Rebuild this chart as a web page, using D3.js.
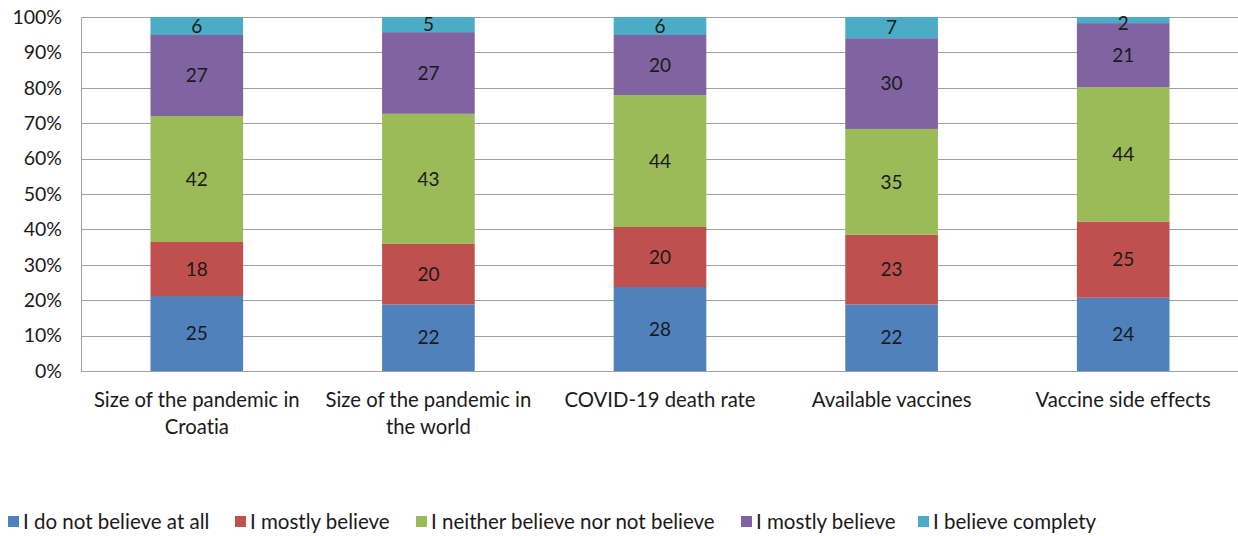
<!DOCTYPE html>
<html><head><meta charset="utf-8">
<script src="https://cdn.jsdelivr.net/npm/d3@7"></script>
<style>body{margin:0;background:#fff}svg{display:block}text{font-family:Lato,"Open Sans",sans-serif;fill:#1a1a1a;font-variant-ligatures:none;font-feature-settings:"liga" 0,"clig" 0}</style>
</head><body>
<svg id="c" width="1238" height="536"></svg>
<script>
const categories = ["Size of the pandemic in Croatia","Size of the pandemic in the world","COVID-19 death rate","Available vaccines","Vaccine side effects"];
const seriesNames = ["I do not believe at all","I mostly believe","I neither believe nor not believe","I mostly believe","I believe complety"];
const notAtAll = [25,22,28,22,24];
const mostly1 = [18,20,20,23,25];
const neither = [42,43,44,35,44];
const mostly2 = [27,27,20,30,21];
const completely = [6,5,6,7,2];
const colors = ["#4F81BD","#C0504D","#9BBB59","#8064A2","#4BACC6"];
const yTicks = [0,0.1,0.2,0.3,0.4,0.5,0.6,0.7,0.8,0.9,1];

const series = [notAtAll,mostly1,neither,mostly2,completely];
const rows = categories.map((c,i)=>{const o={cat:c};series.forEach((s,j)=>o["s"+j]=s[i]);return o;});
const keys = series.map((s,j)=>"s"+j);
const stack = d3.stack().keys(keys).offset(d3.stackOffsetExpand)(rows);

const svg = d3.select("#c");
const L=81,R=1239,T=17,B=371;
const x = d3.scaleBand().domain(categories).range([L,R]).paddingInner(0.6).paddingOuter(0.3);
const y = d3.scaleLinear().domain([0,1]).range([B,T]);

svg.append("g").selectAll("line").data(yTicks).join("line")
  .attr("x1",L).attr("x2",R).attr("y1",d=>Math.round(y(d))+0.5).attr("y2",d=>Math.round(y(d))+0.5)
  .attr("stroke","#A0A0A0").attr("stroke-width",1);
svg.append("line").attr("x1",L+0.5).attr("x2",L+0.5).attr("y1",T).attr("y2",B).attr("stroke","#A0A0A0");
svg.append("g").selectAll("text").data(yTicks).join("text")
  .attr("x",62).attr("y",d=>y(d)).attr("dy","0.35em").attr("text-anchor","end")
  .style("font-size","19.5px").text(d=>d3.format(".0%")(d));

const g = svg.append("g");
stack.forEach((layer,j)=>{
  g.append("g").selectAll("rect").data(layer).join("rect")
    .attr("x",d=>x(d.data.cat)).attr("width",x.bandwidth())
    .attr("y",d=>y(d[1])).attr("height",d=>y(d[0])-y(d[1]))
    .attr("fill",colors[j]);
  g.append("g").selectAll("text").data(layer).join("text")
    .attr("x",d=>x(d.data.cat)+x.bandwidth()/2)
    .attr("y",d=>Math.max((y(d[0])+y(d[1]))/2, T+6))
    .attr("dy","0.35em").attr("text-anchor","middle").style("font-size","19px")
    .text(d=>d.data[keys[j]]);
});

const wrap = {"Size of the pandemic in Croatia":["Size of the pandemic in","Croatia"],
  "Size of the pandemic in the world":["Size of the pandemic in","the world"]};
categories.forEach(c=>{
  const lines = wrap[c]||[c];
  const t = svg.append("text").attr("text-anchor","middle").style("font-size","20.3px");
  lines.forEach((ln,i)=>t.append("tspan").attr("x",x(c)+x.bandwidth()/2).attr("y",407+i*27).text(ln));
});

const legX=[8,235,416,741,918];
const lg = svg.append("g");
seriesNames.forEach((n,i)=>{
  lg.append("rect").attr("x",legX[i]).attr("y",516).attr("width",11).attr("height",11).attr("fill",colors[i]);
  lg.append("text").attr("x",legX[i]+15).attr("y",522).attr("dy","0.35em").style("font-size","20.5px").text(n);
});
</script>
</body></html>
